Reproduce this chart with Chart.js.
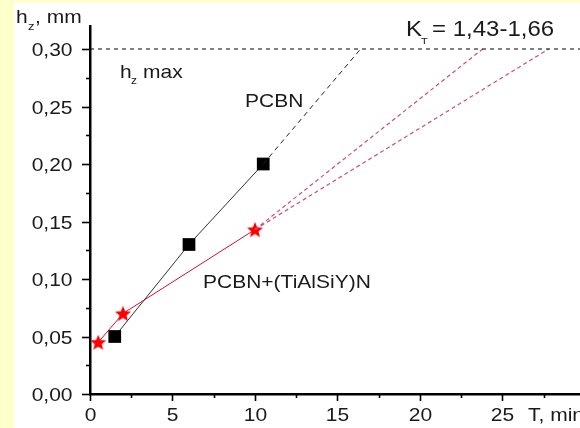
<!DOCTYPE html>
<html>
<head>
<meta charset="utf-8">
<script src="https://cdn.jsdelivr.net/npm/chart.js@4/dist/chart.umd.min.js"></script>
<style>
  html, body { margin: 0; padding: 0; background: #FFFFCC; }
  canvas { display: block; }
</style>
</head>
<body>
<canvas id="wear" width="580" height="428"></canvas>
<script>
// Flank wear h_z (mm) vs cutting time T (min)
const pcbnTime = [1.5, 6, 10.5];
const pcbnWear = [0.05, 0.13, 0.20];
const coatedTime = [0.5, 2, 10];
const coatedWear = [0.045, 0.07, 0.143];

// wear criterion and times where the extrapolated lines reach it
const wearLimit = 0.30;
const pcbnLimitTime = 16.4;
const coatedLimitTimes = [23.8, 27.8];

const xTickLabels = ['0', '5', '10', '15', '20', '25'];
const yTickLabels = ['0,00', '0,05', '0,10', '0,15', '0,20', '0,25', '0,30'];

const FONT = '"Liberation Sans", Arial, Helvetica, sans-serif';
const X_MAJOR = 5, Y_MAJOR = 0.05;

function pts(xs, ys) { return xs.map((x, i) => ({ x, y: ys[i] })); }

// filled five-pointed star used as point marker
function starMarker(size, outer, inner, color) {
  const c = document.createElement('canvas');
  c.width = c.height = size;
  const g = c.getContext('2d');
  g.fillStyle = color;
  g.beginPath();
  for (let i = 0; i < 10; i++) {
    const r = i % 2 ? inner : outer;
    const a = -Math.PI / 2 + i * Math.PI / 5;
    const px = size / 2 + r * Math.cos(a), py = size / 2 + 0.8 + r * Math.sin(a);
    if (i === 0) g.moveTo(px, py); else g.lineTo(px, py);
  }
  g.closePath();
  g.fill();
  return c;
}
const star = starMarker(20, 8.4, 3.7, '#FF0000');

// white panel behind the plot, yellow margin around it
const panel = {
  id: 'panel',
  beforeDraw(chart) {
    const ctx = chart.ctx;
    ctx.save();
    ctx.fillStyle = '#FFFFCC';
    ctx.fillRect(0, 0, chart.width, chart.height);
    ctx.fillStyle = '#FFFFFF';
    ctx.fillRect(14, 3, chart.width - 14, chart.height - 3);
    ctx.restore();
  }
};

// text with slight vertical compression
function txt(ctx, s, x, y, size, align) {
  ctx.save();
  ctx.font = size + 'px ' + FONT;
  ctx.fillStyle = '#1a1a1a';
  ctx.textBaseline = 'alphabetic';
  ctx.textAlign = align || 'left';
  ctx.translate(x, y);
  ctx.scale(1, 0.9);
  ctx.fillText(s, 0, 0);
  ctx.restore();
}

function majorIndex(v, step) {
  const k = v / step;
  return Math.abs(k - Math.round(k)) < 1e-6 ? Math.round(k) : -1;
}

// tick marks (long for labelled ticks, short in between) and tick labels
const axisTicks = {
  id: 'axisTicks',
  afterDraw(chart) {
    const ctx = chart.ctx;
    const xs = chart.scales.x, ys = chart.scales.y;
    const a = chart.chartArea;
    ctx.save();
    ctx.strokeStyle = '#000';
    ctx.lineWidth = 1.6;
    ys.ticks.forEach(t => {
      const p = Math.round(ys.getPixelForValue(t.value)) + 0.5;
      const k = majorIndex(t.value, Y_MAJOR);
      const len = k >= 0 ? 8 : 4;
      ctx.beginPath(); ctx.moveTo(a.left - len, p); ctx.lineTo(a.left, p); ctx.stroke();
      if (k >= 0 && yTickLabels[k] !== undefined) txt(ctx, yTickLabels[k], 72.5, p + 6.5, 21, 'right');
    });
    xs.ticks.forEach(t => {
      const p = Math.round(xs.getPixelForValue(t.value)) + 0.5;
      const k = majorIndex(t.value, X_MAJOR);
      const len = k >= 0 ? 7 : 4;
      ctx.beginPath(); ctx.moveTo(p, a.bottom); ctx.lineTo(p, a.bottom + len); ctx.stroke();
      if (k >= 0 && xTickLabels[k] !== undefined) txt(ctx, xTickLabels[k], p, 421, 21, 'center');
    });
    ctx.restore();
  }
};

const annotations = {
  id: 'annotations',
  afterDraw(chart) {
    const ctx = chart.ctx;
    // axis titles
    txt(ctx, 'h', 16, 23, 21);
    txt(ctx, 'z', 28, 30, 13);
    txt(ctx, ', mm', 35, 23, 21);
    txt(ctx, 'T, min', 528, 421, 21);
    // wear limit
    txt(ctx, 'h', 120, 78, 21);
    txt(ctx, 'z', 131, 84, 12);
    txt(ctx, 'max', 143, 78, 21);
    // series names
    txt(ctx, 'PCBN', 245, 107, 21);
    txt(ctx, 'PCBN+(TiAlSiY)N', 203, 288, 21);
    // tool life ratio
    txt(ctx, 'K', 406, 36, 24);
    txt(ctx, 'T', 421, 44, 11);
    txt(ctx, '= 1,43-1,66', 432, 36, 24);
  }
};

const xMax = 29.7;

new Chart(document.getElementById('wear'), {
  type: 'scatter',
  data: {
    datasets: [
      {
        // wear limit line
        data: [{ x: 0, y: wearLimit }, { x: xMax, y: wearLimit }],
        showLine: true, borderColor: '#000', borderWidth: 1, borderDash: [4, 4],
        pointRadius: 0, clip: false
      },
      {
        data: [{ x: pcbnTime[2], y: pcbnWear[2] }, { x: pcbnLimitTime, y: wearLimit }],
        showLine: true, borderColor: '#222', borderWidth: 1, borderDash: [5, 4],
        pointRadius: 0, clip: false
      },
      {
        data: [{ x: coatedTime[2], y: coatedWear[2] }, { x: coatedLimitTimes[0], y: wearLimit }],
        showLine: true, borderColor: '#C8507A', borderWidth: 1.2, borderDash: [4, 3],
        pointRadius: 0, clip: false
      },
      {
        data: [{ x: coatedTime[2], y: coatedWear[2] }, { x: coatedLimitTimes[1], y: wearLimit }],
        showLine: true, borderColor: '#C8507A', borderWidth: 1.2, borderDash: [4, 3],
        pointRadius: 0, clip: false
      },
      {
        label: 'PCBN',
        data: pts(pcbnTime, pcbnWear),
        showLine: true, borderColor: '#333', borderWidth: 1,
        pointStyle: 'rect', pointRadius: 9, pointBackgroundColor: '#000', pointBorderColor: '#000',
        pointBorderWidth: 0, clip: false
      },
      {
        label: 'PCBN+(TiAlSiY)N',
        data: pts(coatedTime, coatedWear),
        showLine: true, borderColor: '#D0103A', borderWidth: 1,
        pointStyle: star, pointRadius: 9, clip: false
      }
    ]
  },
  options: {
    responsive: false,
    animation: false,
    events: [],
    layout: { autoPadding: false, padding: { top: 26, right: 0, left: 0, bottom: 0 } },
    plugins: { legend: { display: false }, tooltip: { enabled: false } },
    scales: {
      x: {
        type: 'linear', position: 'bottom', min: 0, max: xMax,
        grid: { display: false },
        border: { display: true, color: '#000', width: 2.5 },
        ticks: { display: false, stepSize: 2.5, includeBounds: false, autoSkip: false },
        afterFit: s => { s.height = 34; s.paddingLeft = 0; s.paddingRight = 0; }
      },
      y: {
        type: 'linear', min: 0, max: 0.32,
        grid: { display: false },
        border: { display: true, color: '#000', width: 2.5 },
        ticks: { display: false, stepSize: 0.025, includeBounds: false, autoSkip: false },
        afterFit: s => { s.width = 90; s.paddingTop = 0; s.paddingBottom = 0; }
      }
    }
  },
  plugins: [panel, axisTicks, annotations]
});
</script>
</body>
</html>
